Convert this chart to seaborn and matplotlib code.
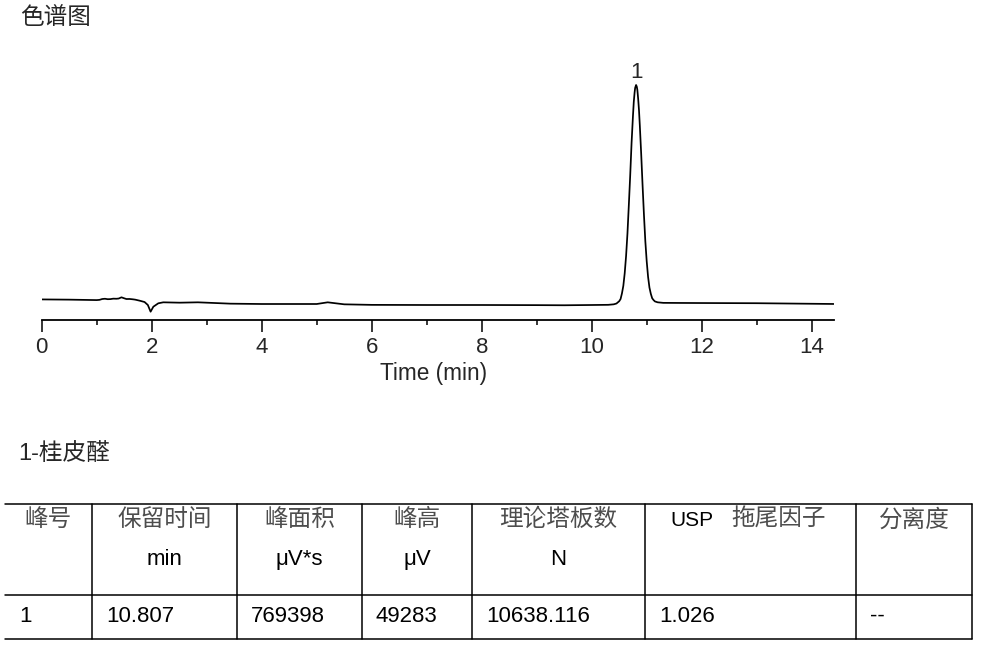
import matplotlib
matplotlib.use("Agg")
import matplotlib.pyplot as plt
from matplotlib.ticker import MultipleLocator
from matplotlib.lines import Line2D
import seaborn as sns
import pandas as pd

# ---------------- data ----------------
time_min = [0.00, 0.50, 1.00, 1.05, 1.10, 1.15, 1.20, 1.25, 1.30, 1.36, 1.40, 1.45,
            1.50, 1.54, 1.60, 1.66, 1.70, 1.78, 1.87,
            1.93, 1.98, 2.03, 2.12, 2.21, 2.51, 2.84, 3.00, 3.43, 4.00, 5.00, 5.12,
            5.20, 5.30, 5.50, 6.00, 7.00, 8.00, 9.00, 9.50, 10.00, 10.30, 10.40,
            10.45, 10.50, 10.525, 10.55, 10.575, 10.60, 10.625, 10.65, 10.675,
            10.70, 10.725, 10.75, 10.765, 10.78, 10.79, 10.807, 10.82, 10.83,
            10.845, 10.86, 10.875, 10.90, 10.925, 10.95, 10.975, 11.00, 11.025,
            11.05, 11.075, 11.10, 11.125, 11.15, 11.20, 11.30, 11.60,
            12.00, 13.00, 14.40]
signal_uv = [1250, 1200, 1100, 1150, 1340, 1400, 1300, 1320, 1420, 1400, 1450, 1720,
             1500, 1340, 1350, 1270, 1200, 970, 670,
             0, -1500, -380, 380, 600, 520, 600, 520, 300, 224, 224, 450,
             600, 450, 150, 30, 0, 0, -30, -60, 0, 40, 150,
             330, 850, 1340, 2600, 4290, 7100, 10970, 16000, 22370,
             29000, 36320, 42300, 45490, 47600, 48640, 49283, 48900, 48200,
             46160, 43600, 40200, 33800, 26800, 20200, 14300, 9800, 6300,
             3900, 2500, 1500, 1100, 800, 600, 480, 460,
             440, 400, 230]

peak_labels = ["1"]
peak_times = [10.807]
peak_heights = [49283]

chart_title = "色谱图"
compound_note = "1-桂皮醛"
x_label = "Time (min)"

header_cn = ["峰号", "保留时间", "峰面积", "峰高", "理论塔板数", "拖尾因子", "分离度"]
header_prefix = ["", "", "", "", "", "USP", ""]
header_units = ["", "min", "μV*s", "μV", "N", "", ""]
row_values = ["1", "10.807", "769398", "49283", "10638.116", "1.026", "--"]

# ---------------- figure ----------------
W, H = 981, 649
sns.set_style("white")
plt.rcParams["font.family"] = ["Liberation Sans", "Noto Sans CJK SC", "DejaVu Sans"]
plt.rcParams["font.size"] = 16
CJK_SIZE = 17

fig = plt.figure(figsize=(W / 100, H / 100), dpi=100)


def fx(px):
    return px / W


def fy(py):
    return 1 - py / H


ax_left, ax_right, ax_top, ax_bot = 41.7, 833.7, 50, 320
ax = fig.add_axes([fx(ax_left), fy(ax_bot), fx(ax_right - ax_left), (ax_bot - ax_top) / H])

df = pd.DataFrame({"t": time_min, "s": signal_uv})
sns.lineplot(data=df, x="t", y="s", ax=ax, color="black", lw=1.25, estimator=None)

ax.set_xlim(0, 14.4)
ax.set_ylim(-3360, 57120)
for side in ["left", "right", "top"]:
    ax.spines[side].set_visible(False)
ax.spines["bottom"].set_color("black")
ax.spines["bottom"].set_linewidth(1.3)
ax.set_yticks([])
ax.set_ylabel("")
ax.xaxis.set_major_locator(MultipleLocator(2))
ax.xaxis.set_minor_locator(MultipleLocator(1))
ax.tick_params(axis="x", which="major", direction="out", length=8.6, width=1.1,
               color="black", pad=3.5, labelsize=16, bottom=True)
ax.tick_params(axis="x", which="minor", direction="out", length=3.6, width=1.1,
               color="black", bottom=True)
ax.set_xlabel(x_label, fontsize=16.3)
ax.xaxis.label.set_va("baseline")
ax.xaxis.set_label_coords((433.5 - ax_left) / (ax_right - ax_left), -(380 - ax_bot) / (ax_bot - ax_top))

for lab, t, h in zip(peak_labels, peak_times, peak_heights):
    ax.annotate(lab, xy=(t, h), xytext=(0, 5), textcoords="offset points",
                ha="center", va="baseline", fontsize=16)

fig.text(fx(20), fy(17.5), chart_title, fontsize=CJK_SIZE, va="center", ha="left")
fig.text(fx(18), fy(454), compound_note, fontsize=CJK_SIZE, va="center", ha="left")

# ---------------- table ----------------
col_edges = [5, 92, 237, 362, 472, 645, 856, 972]
row_edges = [504, 595, 639]
lw_t = 1.1
for ry in row_edges:
    fig.add_artist(Line2D([fx(col_edges[0]), fx(col_edges[-1])], [fy(ry), fy(ry)],
                          color="black", lw=lw_t))
for cx in col_edges[1:]:
    fig.add_artist(Line2D([fx(cx), fx(cx)], [fy(row_edges[0]), fy(row_edges[-1])],
                          color="black", lw=lw_t))

grey = "#4d4d4d"
for i in range(len(header_cn)):
    c = (col_edges[i] + col_edges[i + 1]) / 2
    if header_prefix[i]:
        fig.text(fx(c - 36.5), fy(526.5), header_prefix[i], fontsize=15, ha="right",
                 va="baseline", color="black")
        fig.text(fx(c - 19), fy(520), header_cn[i], fontsize=CJK_SIZE, ha="left",
                 va="center", color=grey)
    else:
        fig.text(fx(c), fy(520), header_cn[i], fontsize=CJK_SIZE, ha="center",
                 va="center", color=grey)
    if header_units[i]:
        fig.text(fx(c), fy(565), header_units[i], fontsize=16, ha="center",
                 va="baseline", color="black")
    fig.text(fx(col_edges[i] + 14), fy(622), row_values[i], fontsize=16,
             ha="left", va="baseline", color="black")

fig.savefig("out.png", dpi=100, facecolor="white")
